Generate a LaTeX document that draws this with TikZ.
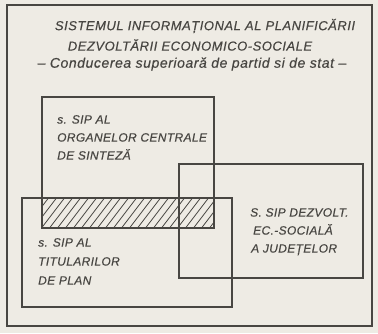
\documentclass[tikz,border=0pt]{standalone}
\usepackage{fontspec}
\setmainfont{Liberation Sans}
\newfontfamily\hand[LetterSpace=3,FakeBold=0.4]{Liberation Sans}
\newfontfamily\handwide[LetterSpace=4,FakeBold=0.4]{Liberation Sans}
\usetikzlibrary{positioning}
\definecolor{paper}{RGB}{238,235,228}
\definecolor{ink}{RGB}{72,70,66}

\begin{document}
\begin{tikzpicture}[x=1pt,y=-1pt,
  box/.style={draw=ink,line width=1.5pt},
  lbl/.style={inner sep=0pt,anchor=north west,text=ink,align=left,
    font=\hand\itshape\fontsize{12}{18}\selectfont},
  ttl/.style={inner sep=0pt,text=ink,font=\handwide\itshape\fontsize{13}{18}\selectfont}]
  \fill[paper] (0,0) rectangle (378,333);
  \useasboundingbox (0,0) rectangle (378,333);
  \draw[ink,line width=1.3pt] (7,5) rectangle (372,326);
  % title
  \node[ttl] (title1) at (205,26) {SISTEMUL INFORMAȚIONAL AL PLANIFICĂRII};
  \node[ttl] (title2) at (190,45) {DEZVOLTĂRII ECONOMICO-SOCIALE};
  \node[ttl,font=\handwide\itshape\fontsize{14}{18}\selectfont] (title3) at (192,64)
    {– Conducerea superioară de partid si de stat –};
  % hatched overlap
  \begin{scope}
    \clip (42,198) rectangle (214,228);
    \foreach \i in {0,...,26}
      \draw[ink,line width=0.8pt] (16+8*\i,230) -- ++(26,-34);
  \end{scope}
  \draw[box] (42,97) rectangle (214,228);
  \draw[box] (22,198) rectangle (232,307);
  \draw[box] (179,164) rectangle (363,278);
  \node[lbl] (centrale) at (57,115) {s. SIP AL\\ORGANELOR CENTRALE\\DE SINTEZĂ};
  \node[lbl] (judete) at (250,208) {S. SIP DEZVOLT.\\\hspace{3pt}EC.-SOCIALĂ\\\hspace{1pt}A JUDEȚELOR};
  \node[lbl,font=\hand\itshape\fontsize{12}{19}\selectfont] (titulari) at (38,238)
    {s. SIP AL\\TITULARILOR\\DE PLAN};
\end{tikzpicture}
\end{document}
